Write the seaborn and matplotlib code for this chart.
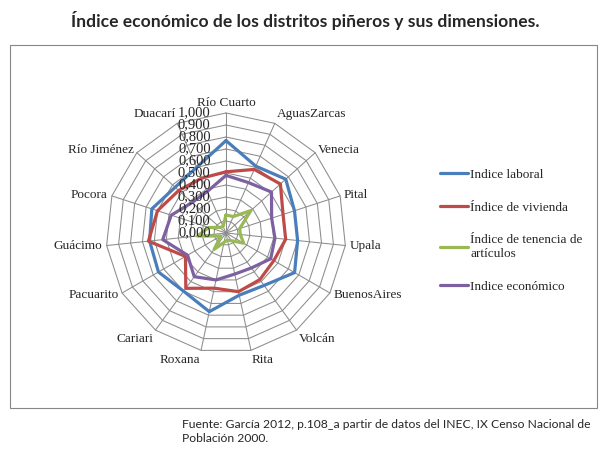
import numpy as np
import pandas as pd
import matplotlib
matplotlib.use("Agg")
import matplotlib.pyplot as plt
import seaborn as sns
from matplotlib.patches import Rectangle

# distritos (en el orden del grafico, sentido horario desde arriba)
distritos = ['Río Cuarto', 'AguasZarcas', 'Venecia', 'Pital', 'Upala',
             'BuenosAires', 'Volcán', 'Rita', 'Roxana', 'Cariari',
             'Pacuarito', 'Guácimo', 'Pocora', 'Río Jiménez', 'Duacarí']

# valores
laboral = [0.77, 0.61, 0.67, 0.60, 0.60, 0.66, 0.54, 0.53, 0.67, 0.60,
           0.65, 0.64, 0.65, 0.57, 0.60]
vivienda = [0.51, 0.58, 0.61, 0.50, 0.50, 0.46, 0.48, 0.50, 0.47, 0.57,
            0.39, 0.65, 0.60, 0.53, 0.50]
tenencia = [0.15, 0.15, 0.28, 0.12, 0.12, 0.17, 0.08, 0.06, 0.08, 0.17,
            0.05, 0.24, 0.15, 0.07, 0.06]
economico = [0.48, 0.46, 0.51, 0.40, 0.41, 0.43, 0.36, 0.35, 0.40, 0.45,
             0.37, 0.53, 0.48, 0.38, 0.38]

series = ['Indice laboral', 'Índice de vivienda',
          'Índice de tenencia de\nartículos', 'Indice económico']
colores = ['#4A7EBB', '#BE4B48', '#98B954', '#7D60A0']
ticks = [0.0, 0.1, 0.2, 0.3, 0.4, 0.5, 0.6, 0.7, 0.8, 0.9, 1.0]

sns.set_style("white")
serif = ['Liberation Serif', 'DejaVu Serif']

n = len(distritos)
theta = np.linspace(0, 2 * np.pi, n, endpoint=False)
theta_c = np.append(theta, 2 * np.pi)

fig = plt.figure(figsize=(6.15, 4.61), dpi=100)
fig.patch.set_facecolor('white')

# marco del area del grafico
fig.patches.append(Rectangle((10 / 615, 53 / 461), 587 / 615, 363 / 461,
                             transform=fig.transFigure, fill=False,
                             edgecolor='#868686', lw=0.8))

ax = fig.add_axes([106 / 615, 108 / 461, 240 / 615, 240 / 461], polar=True)
ax.set_theta_zero_location('N')
ax.set_theta_direction(-1)
ax.set_ylim(0, 1)
ax.grid(False)
ax.set_xticks([])
ax.set_yticks([])
ax.spines['polar'].set_visible(False)
ax.set_facecolor('none')

# rejilla poligonal
for r in ticks[1:]:
    ax.plot(theta_c, [r] * (n + 1), color='#8C8C8C', lw=0.75, clip_on=False, zorder=1)
for t in theta:
    ax.plot([t, t], [0, 1], color='#8C8C8C', lw=0.75, clip_on=False, zorder=1)

df = pd.DataFrame({'laboral': laboral, 'vivienda': vivienda,
                   'tenencia': tenencia, 'economico': economico})
for col, name, c in zip(df.columns, series, colores):
    vals = np.append(df[col].values, df[col].values[0])
    sns.lineplot(x=theta_c, y=vals, sort=False, color=c, lw=2.3, label=name,
                 ax=ax, zorder=3)
ax.set_xlabel('')
ax.set_ylabel('')

# etiquetas de los distritos
for t, lab in zip(theta, distritos):
    s, c = np.sin(t), np.cos(t)
    ha = 'left' if s > 0.15 else ('right' if s < -0.15 else 'center')
    va = 'bottom' if c > 0.8 else ('top' if c < -0.8 else 'center')
    ax.annotate(lab, xy=(t, 1.0), xytext=(s * 3, c * 3), textcoords='offset points',
                ha=ha, va=va, fontsize=9.5, family=serif, annotation_clip=False)

# etiquetas del eje radial
for r in ticks:
    ax.annotate(f"{r:.3f}".replace('.', ','), xy=(0, r), xytext=(-11, 0),
                textcoords='offset points', ha='right', va='center',
                fontsize=10.5, family=serif, zorder=4, annotation_clip=False)

ax.legend(loc='upper left', bbox_to_anchor=(428 / 615, (461 - 157) / 461),
          bbox_transform=fig.transFigure, frameon=False, handlelength=2.1,
          handletextpad=0.2, labelspacing=1.55, prop={'family': serif, 'size': 9.5})

fig.text(0.496, 1 - 20 / 461, 'Índice económico de los distritos piñeros y sus dimensiones.',
         ha='center', va='center', fontsize=12.6, fontweight='bold', family='Lato')
fig.text(182 / 615, 1 - 419 / 461,
         'Fuente: García 2012, p.108_a partir de datos del INEC, IX Censo Nacional de\nPoblación 2000.',
         ha='left', va='top', fontsize=8.7, family='Lato', linespacing=1.3)

fig.savefig('out.png', dpi=100, facecolor='white')
